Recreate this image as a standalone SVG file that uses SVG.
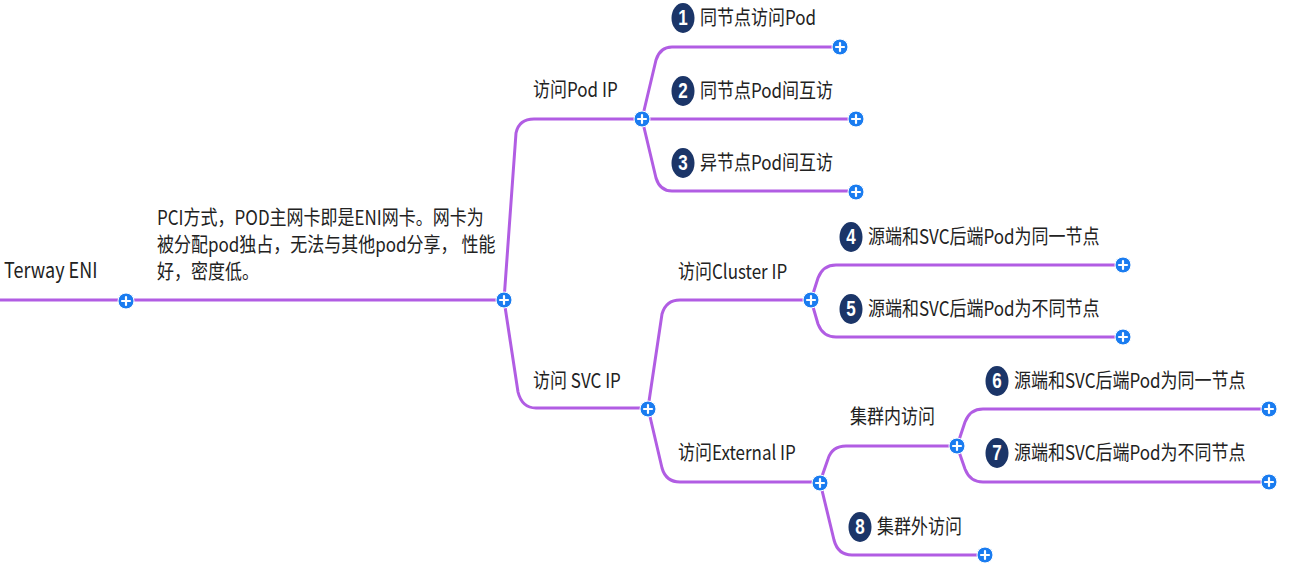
<svg xmlns="http://www.w3.org/2000/svg" width="1299" height="573" viewBox="0 0 1299 573">
<defs>
<style>
.ln{fill:none;stroke:#b15de3;stroke-width:3;stroke-linecap:round;stroke-linejoin:round}
.t{font-family:"Noto Sans CJK SC","Liberation Sans",sans-serif;font-size:17px;fill:#222}
.bd{fill:#1b3568}
.bn{font-family:"Liberation Sans","Noto Sans CJK SC",sans-serif;font-size:17px;font-weight:bold;fill:#fff;text-anchor:middle}
</style>
<g id="plus">
<circle r="8" fill="#1a7cf0" stroke="#fff" stroke-width="1"/>
<path d="M-4,0H4M0,-4V4" stroke="#fff" stroke-width="2.2" stroke-linecap="round"/>
</g>
</defs>
<rect width="1299" height="573" fill="#fff"/>
<g id="connectors">
<path class="ln" d="M0,300 L504,300"/>
<path class="ln" d="M504,300 L516,133 Q519,119 534,119 L642,119"/>
<path class="ln" d="M504,300 L518,392 Q522,408 536,408 L648,408"/>
<path class="ln" d="M642,119 L656,60 Q660,47 672,47 L840,47"/>
<path class="ln" d="M642,119 L856,119"/>
<path class="ln" d="M642,119 L656,178 Q660,191 672,191 L856,191"/>
<path class="ln" d="M648,408 L662,314 Q666,300 680,300 L811,300"/>
<path class="ln" d="M648,408 L662,468 Q666,482 680,482 L820,482"/>
<path class="ln" d="M811,300 L818,278 Q823,265 836,265 L1123,265"/>
<path class="ln" d="M811,300 L818,324 Q823,337 836,337 L1123,337"/>
<path class="ln" d="M820,482 L828,459 Q832,446 846,446 L957,446"/>
<path class="ln" d="M820,482 L834,540 Q838,555 852,555 L985,555"/>
<path class="ln" d="M957,446 L965,422 Q970,409 983,409 L1269,409"/>
<path class="ln" d="M957,446 L965,469 Q970,482 983,482 L1269,482"/>
</g>
<g id="root">
<text class="t" transform="translate(4,278) scale(1,1.2)" style="font-size:18px">Terway ENI</text>
<use href="#plus" x="126" y="301"/>
</g>
<g id="desc">
<text class="t" transform="translate(157,225) scale(1,1.2)">PCI方式，POD主网卡即是ENI网卡。网卡为</text>
<text class="t" transform="translate(157,252) scale(1,1.2)">被分配pod独占，无法与其他pod分享， 性能</text>
<text class="t" transform="translate(157,279) scale(1,1.2)">好，密度低。</text>
<use href="#plus" x="504" y="300"/>
</g>
<g id="podip">
<text class="t" transform="translate(533,97) scale(1,1.2)">访问Pod IP</text>
<use href="#plus" x="642" y="119"/>
</g>
<g id="n1">
<ellipse class="bd" cx="683" cy="18" rx="11.5" ry="15"/><text class="bn" transform="translate(683,25) scale(1,1.25)">1</text>
<text class="t" transform="translate(700,25) scale(1,1.2)">同节点访问Pod</text>
<use href="#plus" x="840" y="47"/>
</g>
<g id="n2">
<ellipse class="bd" cx="683" cy="91" rx="11.5" ry="15"/><text class="bn" transform="translate(683,98) scale(1,1.25)">2</text>
<text class="t" transform="translate(700,98) scale(1,1.2)">同节点Pod间互访</text>
<use href="#plus" x="856" y="119"/>
</g>
<g id="n3">
<ellipse class="bd" cx="683" cy="163" rx="11.5" ry="15"/><text class="bn" transform="translate(683,170) scale(1,1.25)">3</text>
<text class="t" transform="translate(700,170) scale(1,1.2)">异节点Pod间互访</text>
<use href="#plus" x="856" y="192"/>
</g>
<g id="svcip">
<text class="t" transform="translate(533,388) scale(1,1.2)">访问 SVC IP</text>
<use href="#plus" x="648" y="409"/>
</g>
<g id="cluster">
<text class="t" transform="translate(678,279) scale(1,1.2)">访问Cluster IP</text>
<use href="#plus" x="811" y="300"/>
</g>
<g id="n4">
<ellipse class="bd" cx="851" cy="237" rx="11.5" ry="15"/><text class="bn" transform="translate(851,244) scale(1,1.25)">4</text>
<text class="t" transform="translate(868,244) scale(1,1.2)">源端和SVC后端Pod为同一节点</text>
<use href="#plus" x="1123" y="265"/>
</g>
<g id="n5">
<ellipse class="bd" cx="851" cy="309" rx="11.5" ry="15"/><text class="bn" transform="translate(851,316) scale(1,1.25)">5</text>
<text class="t" transform="translate(868,316) scale(1,1.2)">源端和SVC后端Pod为不同节点</text>
<use href="#plus" x="1123" y="337"/>
</g>
<g id="external">
<text class="t" transform="translate(678,460) scale(1,1.2)">访问External IP</text>
<use href="#plus" x="820" y="483"/>
</g>
<g id="inner">
<text class="t" transform="translate(850,424) scale(1,1.2)">集群内访问</text>
<use href="#plus" x="957" y="446"/>
</g>
<g id="n6">
<ellipse class="bd" cx="997" cy="381" rx="11.5" ry="15"/><text class="bn" transform="translate(997,388) scale(1,1.25)">6</text>
<text class="t" transform="translate(1014,388) scale(1,1.2)">源端和SVC后端Pod为同一节点</text>
<use href="#plus" x="1269" y="409"/>
</g>
<g id="n7">
<ellipse class="bd" cx="997" cy="453" rx="11.5" ry="15"/><text class="bn" transform="translate(997,460) scale(1,1.25)">7</text>
<text class="t" transform="translate(1014,460) scale(1,1.2)">源端和SVC后端Pod为不同节点</text>
<use href="#plus" x="1269" y="482"/>
</g>
<g id="n8">
<ellipse class="bd" cx="860" cy="527" rx="11.5" ry="15"/><text class="bn" transform="translate(860,534) scale(1,1.25)">8</text>
<text class="t" transform="translate(877,534) scale(1,1.2)">集群外访问</text>
<use href="#plus" x="985" y="555"/>
</g>
</svg>
